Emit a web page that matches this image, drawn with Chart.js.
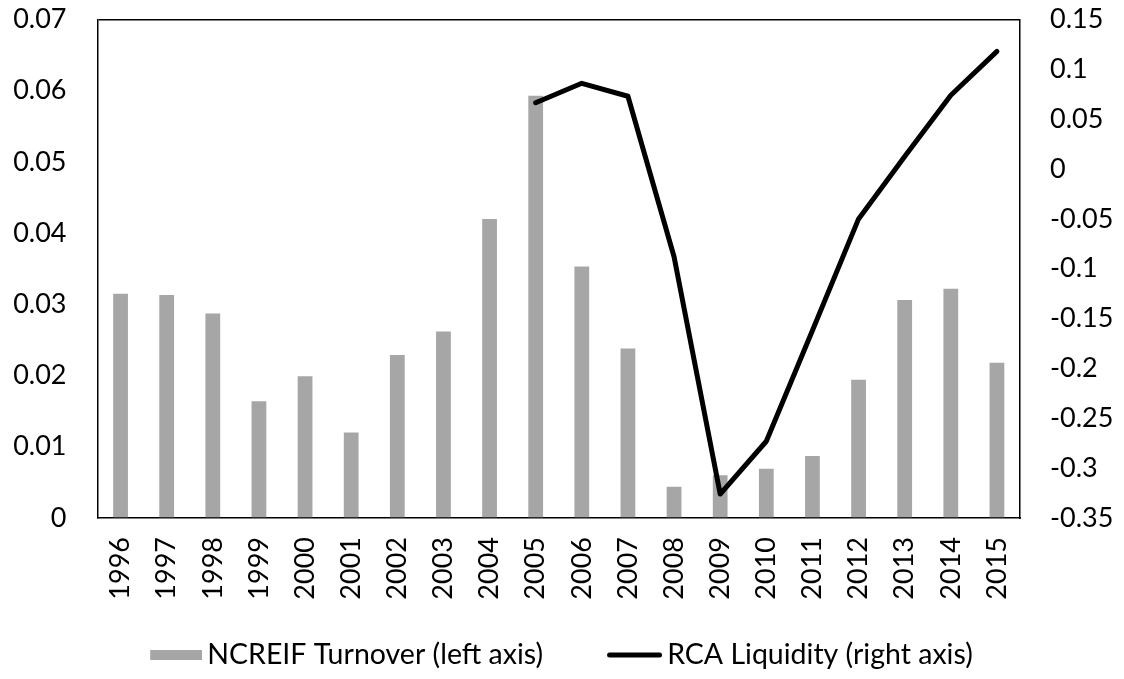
<!DOCTYPE html>
<html>
<head>
<meta charset="utf-8">
<script src="https://cdn.jsdelivr.net/npm/chart.js@4/dist/chart.umd.min.js"></script>
<style>
  html, body { margin: 0; padding: 0; background: #ffffff; }
  #wrap { width: 1124px; height: 679px; }
</style>
</head>
<body>
<div id="wrap"><canvas id="c" width="1124" height="679"></canvas></div>
<script>
// ---- data ----
const years = ['1996','1997','1998','1999','2000','2001','2002','2003','2004','2005',
               '2006','2007','2008','2009','2010','2011','2012','2013','2014','2015'];
const ncreifTurnover = [0.0315, 0.0313, 0.0287, 0.0164, 0.0199, 0.0120, 0.0229, 0.0262, 0.0420, 0.0593,
                        0.0353, 0.0238, 0.0044, 0.0060, 0.0069, 0.0087, 0.0194, 0.0306, 0.0322, 0.0218];
const rcaLiquidity = [null, null, null, null, null, null, null, null, null, 0.0665,
                      0.0860, 0.0730, -0.0880, -0.3260, -0.2730, -0.1620, -0.0500, 0.0125, 0.0740, 0.1180];
const leftTickLabels = ['0', '0.01', '0.02', '0.03', '0.04', '0.05', '0.06', '0.07'];
const rightTickLabels = ['-0.35', '-0.3', '-0.25', '-0.2', '-0.15', '-0.1', '-0.05', '0', '0.05', '0.1', '0.15'];
const barLabel = 'NCREIF Turnover (left axis)';
const lineLabel = 'RCA Liquidity (right axis)';

// ---- styling ----
const FONT = { family: 'Lato, "Open Sans", sans-serif', size: 27 };
const LEGEND_FONT = { family: 'Lato, "Open Sans", sans-serif', size: 28.5 };
const BAR_COLOR = '#a6a6a6';
const FRAME = '#000000';
const LEGEND_PAD = 68;
const SWATCH_SLOT = 41.75;                    // pointStyleWidth
const SWATCH_W = Math.round(SWATCH_SLOT + 18.5);

// legend swatches (canvas images, content right-aligned next to the text)
function makeSwatch(kind) {
  const W = SWATCH_W;
  const cv = document.createElement('canvas');
  if (kind === 'bar') {
    cv.width = W; cv.height = 10;
    const g = cv.getContext('2d');
    g.fillStyle = BAR_COLOR;
    g.fillRect(W - 52, 0, 52, 10);
  } else {
    cv.width = W; cv.height = 6;
    const g = cv.getContext('2d');
    g.strokeStyle = '#000';
    g.lineWidth = 5;
    g.lineCap = 'round';
    g.beginPath();
    g.moveTo(W - 55 + 2.5, 3);
    g.lineTo(W - 2.5, 3);
    g.stroke();
  }
  return cv;
}
const barSwatch = makeSwatch('bar');
const lineSwatch = makeSwatch('line');

new Chart(document.getElementById('c'), {
  type: 'bar',
  data: {
    labels: years,
    datasets: [
      {
        type: 'bar',
        label: barLabel,
        data: ncreifTurnover,
        backgroundColor: BAR_COLOR,
        borderWidth: 0,
        yAxisID: 'y',
        barPercentage: 0.32,
        categoryPercentage: 1.0,
        order: 2
      },
      {
        type: 'line',
        label: lineLabel,
        data: rcaLiquidity,
        borderColor: '#000000',
        backgroundColor: '#000000',
        borderWidth: 5,
        pointRadius: 0,
        tension: 0,
        spanGaps: false,
        borderCapStyle: 'round',
        borderJoinStyle: 'round',
        yAxisID: 'y1',
        order: 1
      }
    ]
  },
  options: {
    responsive: false,
    animation: false,
    layout: { padding: { top: 19.5, left: 0, right: 0, bottom: 0 } },
    plugins: {
      tooltip: { enabled: false },
      legend: {
        position: 'bottom',
        maxHeight: 679 - 518 - 54.75,
        labels: {
          font: LEGEND_FONT,
          color: '#000',
          usePointStyle: true,
          pointStyleWidth: SWATCH_SLOT,
          boxHeight: 10,
          padding: LEGEND_PAD,
          generateLabels: function(chart) {
            return [
              { text: barLabel, pointStyle: barSwatch, fillStyle: BAR_COLOR, strokeStyle: BAR_COLOR, lineWidth: 0, datasetIndex: 0, fontColor: '#000' },
              { text: lineLabel, pointStyle: lineSwatch, fillStyle: '#000', strokeStyle: '#000', lineWidth: 0, datasetIndex: 1, fontColor: '#000' }
            ];
          }
        }
      }
    },
    scales: {
      x: {
        offset: true,
        grid: { display: false, drawTicks: false },
        border: { display: true, color: FRAME, width: 1.5 },
        ticks: { font: FONT, color: '#000', maxRotation: 90, minRotation: 90, padding: 19, autoSkip: false },
        afterFit: function(s) {
          s.height = 54.75; s.paddingLeft = 0; s.paddingRight = 0;
          s._computeLabelArea = function() { return undefined; };  // let rotated labels extend below the axis box
        }
      },
      y: {
        position: 'left',
        min: 0,
        max: 0.07,
        ticks: {
          stepSize: 0.01,
          font: FONT,
          color: '#000',
          padding: 31,
          callback: function(v, i) { return leftTickLabels[i]; }
        },
        grid: {
          drawTicks: false,
          lineWidth: 1.5,
          color: function(ctx) { return ctx.index === leftTickLabels.length - 1 ? FRAME : 'rgba(0,0,0,0)'; }
        },
        border: { display: true, color: FRAME, width: 1.5 },
        afterFit: function(s) { s.width = 97.5; s.paddingTop = 0; s.paddingBottom = 0; }
      },
      y1: {
        position: 'right',
        min: -0.35,
        max: 0.15,
        ticks: {
          stepSize: 0.05,
          font: FONT,
          color: '#000',
          padding: 30,
          callback: function(v, i) { return rightTickLabels[i]; }
        },
        grid: { display: false, drawTicks: false },
        border: { display: true, color: FRAME, width: 1.5 },
        afterFit: function(s) { s.width = 104; s.paddingTop = 0; s.paddingBottom = 0; }
      }
    }
  }
});
</script>
</body>
</html>
